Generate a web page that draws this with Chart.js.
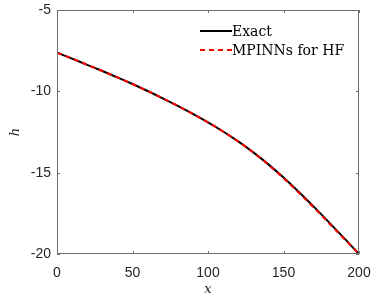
<!DOCTYPE html>
<html>
<head>
<meta charset="utf-8">
<script src="https://cdn.jsdelivr.net/npm/chart.js@4"></script>
<style>
  html, body { margin: 0; padding: 0; background: #fff; }
  #wrap { width: 374px; height: 299px; }
</style>
</head>
<body>
<div id="wrap"><canvas id="chart" width="374" height="299"></canvas></div>
<script>
// ─── Data ────────────────────────────────────────────────────────────────────
const xValues = [0, 10, 20, 30, 40, 50, 60, 70, 80, 90, 100,
                 110, 120, 130, 140, 150, 160, 170, 180, 190, 200];
const exactH  = [-7.62, -7.99, -8.37, -8.75, -9.14, -9.55, -9.98, -10.43, -10.90, -11.39, -11.91,
                 -12.47, -13.08, -13.75, -14.49, -15.30, -16.17, -17.09, -18.04, -19.01, -20.0];
const mpinnH  = [-7.62, -7.99, -8.37, -8.75, -9.14, -9.55, -9.98, -10.43, -10.90, -11.39, -11.91,
                 -12.47, -13.08, -13.76, -14.51, -15.34, -16.22, -17.14, -18.09, -19.05, -20.0];
const xTicks  = [0, 50, 100, 150, 200];
const yTicks  = [-5, -10, -15, -20];

const TICK_FONT = { family: "'Liberation Sans', Arial, sans-serif", size: 14 };
const TICK_COLOR = '#262626';
const SERIF = "'DejaVu Serif', 'Liberation Serif', serif";

// ─── Box + inward ticks + in-plot legend ─────────────────────────────────────
const matlabAxes = {
    id: 'matlabAxes',
    afterDraw(chart) {
        const { ctx, chartArea: a, scales } = chart;
        ctx.save();
        ctx.strokeStyle = '#6e6e6e';
        ctx.lineWidth = 1;
        ctx.strokeRect(a.left + 0.5, a.top + 0.5, a.right - a.left - 1, a.bottom - a.top - 1);

        const len = 3;
        ctx.beginPath();
        xTicks.forEach(v => {
            const px = Math.round(scales.x.getPixelForValue(v)) + 0.5;
            ctx.moveTo(px, a.bottom); ctx.lineTo(px, a.bottom - len);
            ctx.moveTo(px, a.top);    ctx.lineTo(px, a.top + len);
        });
        yTicks.forEach(v => {
            const py = Math.round(scales.y.getPixelForValue(v)) + 0.5;
            ctx.moveTo(a.left, py);  ctx.lineTo(a.left + len, py);
            ctx.moveTo(a.right, py); ctx.lineTo(a.right - len, py);
        });
        ctx.stroke();

        // legend, top right inside the axes
        const lx = 200, ly = 31, rowH = 19;
        ctx.font = '14px ' + SERIF;
        ctx.textBaseline = 'middle';
        ctx.fillStyle = '#000';
        chart.data.datasets.forEach((ds, i) => {
            const y = ly + i * rowH;
            ctx.beginPath();
            ctx.strokeStyle = ds.borderColor;
            ctx.lineWidth = ds.borderWidth;
            ctx.setLineDash(ds.borderDash || []);
            ctx.moveTo(lx, y); ctx.lineTo(lx + 32, y);
            ctx.stroke();
            ctx.setLineDash([]);
            ctx.fillText(ds.label, lx + 32, y + 1);
        });
        ctx.restore();
    }
};

new Chart(document.getElementById('chart'), {
    type: 'line',
    data: {
        labels: xValues,
        datasets: [
            {
                label: 'Exact',
                data: xValues.map((x, i) => ({ x, y: exactH[i] })),
                borderColor: '#000000',
                borderWidth: 2,
                pointRadius: 0,
                cubicInterpolationMode: 'monotone',
                order: 2
            },
            {
                label: 'MPINNs for HF',
                data: xValues.map((x, i) => ({ x, y: mpinnH[i] })),
                borderColor: '#ff0000',
                borderWidth: 2,
                borderDash: [5, 4],
                pointRadius: 0,
                cubicInterpolationMode: 'monotone',
                order: 1
            }
        ]
    },
    options: {
        responsive: false,
        animation: false,
        layout: { padding: { top: 10, right: 15, left: 0, bottom: 0 } },
        plugins: { legend: { display: false }, tooltip: { enabled: false } },
        scales: {
            x: {
                type: 'linear',
                min: 0, max: 200,
                afterBuildTicks: s => { s.ticks = xTicks.map(v => ({ value: v })); },
                afterFit: s => { s.height = 45; s.paddingLeft = 0; s.paddingRight = 0; },
                grid: { display: false, drawTicks: false },
                border: { display: false },
                ticks: { font: TICK_FONT, color: TICK_COLOR, padding: 11, maxRotation: 0 },
                title: {
                    display: true, text: 'x', color: '#262626',
                    font: { family: SERIF, size: 13, style: 'italic' },
                    padding: { top: 0, bottom: 2 }
                }
            },
            y: {
                min: -20, max: -5,
                afterBuildTicks: s => { s.ticks = yTicks.map(v => ({ value: v })); },
                afterFit: s => { s.width = 57; s.paddingTop = 0; s.paddingBottom = 0; },
                grid: { display: false, drawTicks: false },
                border: { display: false },
                ticks: { font: TICK_FONT, color: TICK_COLOR, padding: 6 },
                title: {
                    display: true, text: 'h', color: '#262626',
                    font: { family: SERIF, size: 13, style: 'italic' },
                    padding: { top: 8, bottom: 0 }
                }
            }
        }
    },
    plugins: [matlabAxes]
});
</script>
</body>
</html>
